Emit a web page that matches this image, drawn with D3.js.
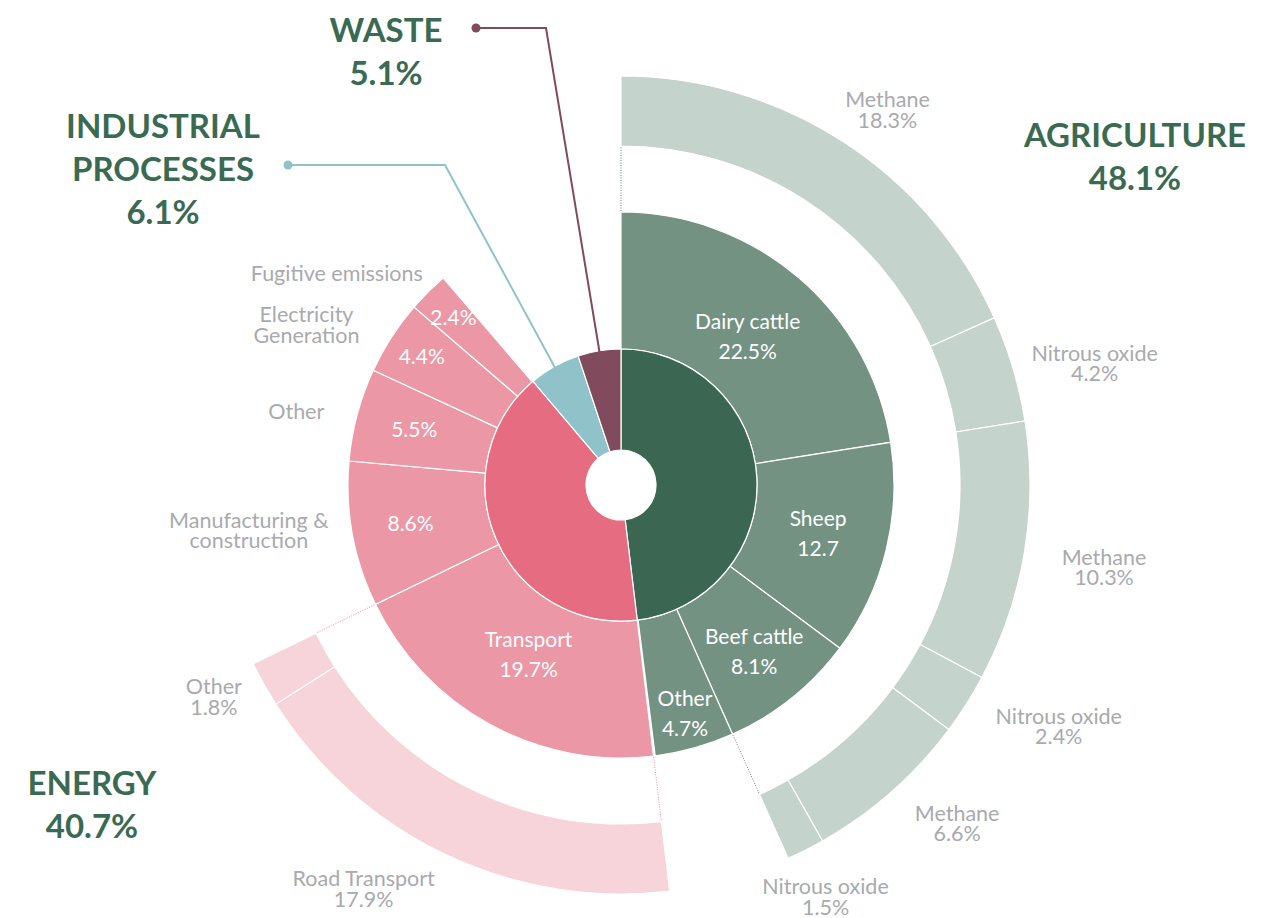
<!DOCTYPE html>
<html>
<head>
<meta charset="utf-8">
<script src="https://cdn.jsdelivr.net/npm/d3@7"></script>
<style>
  body { margin: 0; background: #fff; }
  svg { display: block; }
  text { font-family: Lato, "Open Sans", sans-serif; }
</style>
</head>
<body>
<svg id="chart" width="1272" height="918"></svg>
<script>
// --- data (share of total emissions, %) ---
const sectors = ["AGRICULTURE", "ENERGY", "INDUSTRIAL PROCESSES", "WASTE"];
const sectorShare = [48.1, 40.7, 6.1, 5.1];

const agriSources = ["Dairy cattle", "Sheep", "Beef cattle", "Other"];
const agriShare = [22.5, 12.7, 8.1, 4.7];
const agriTags = ["22.5%", "12.7", "8.1%", "4.7%"];

const energySources = ["Transport", "Manufacturing & construction", "Other", "Electricity Generation", "Fugitive emissions"];
const energyShare = [19.7, 8.6, 5.5, 4.4, 2.4];

const gases = ["Methane", "Nitrous oxide"];
const dairyGas = [18.3, 4.2];
const sheepGas = [10.3, 2.4];
const beefGas = [6.6, 1.5];

const transportModes = ["Road Transport", "Other"];
const transportShare = [17.9, 1.8];

// --- layout ---
const W = 1272, H = 918;
const cx = 621, cy = 485;
const R = { hole: 35, inner: 136, mid: 273, out0: 339, out1: 409 };

const green = { dark: "#3b6651", mid: "#739282", light: "#c4d3cc" };
const pink = { dark: "#e66c81", mid: "#ec97a5", light: "#f7d3da" };
const teal = "#8fc3c9", plum = "#814a5d";
const titleColor = "#3b6a53", grey = "#a8aaad";

// where the grey outside labels sit: [angle in degrees, radius]
const outsideSpot = {
  "Methane 18.3": [35.4, 460], "Nitrous oxide 4.2": [75.6, 489],
  "Methane 10.3": [99.7, 490], "Nitrous oxide 2.4": [118.9, 500],
  "Methane 6.6": [135.2, 477], "Nitrous oxide 1.5": [153.6, 460],
  "Road Transport 17.9": [212.5, 479], "Other 1.8": [242.5, 459],
  "Fugitive emissions": [306.6, 354], "Electricity Generation": [297, 353],
  "Other": [282.8, 333], "Manufacturing & construction": [263, 375]
};
// radius of the white labels inside the middle ring
const insideRadius = { "Dairy cattle": 195, "Sheep": 203, "Beef cattle": 213, "Transport": 193 };

const angle = d3.scaleLinear().domain([0, 100]).range([0, 2 * Math.PI]);
const polar = (a, r) => [r * Math.sin(a), -r * Math.cos(a)];

function stack(names, values, start, r0, r1, fill) {
  let acc = start;
  return names.map((name, i) => {
    const d = { name, value: values[i], a0: acc, a1: acc + values[i], r0, r1, fill };
    acc += values[i];
    return d;
  });
}

const svg = d3.select("#chart");
svg.append("rect").attr("width", W).attr("height", H).attr("fill", "#fff");
const g = svg.append("g").attr("transform", `translate(${cx},${cy})`);

// rings
const sectorFill = [green.dark, pink.dark, teal, plum];
const ring0 = stack(sectors, sectorShare, 0, R.hole, R.inner, null);
ring0.forEach((d, i) => d.fill = sectorFill[i]);
const agri = stack(agriSources, agriShare, ring0[0].a0, R.inner, R.mid, green.mid);
const energy = stack(energySources, energyShare, ring0[1].a0, R.inner, R.mid, pink.mid);
const agriGas = [dairyGas, sheepGas, beefGas].flatMap((vals, i) =>
  stack(gases, vals, agri[i].a0, R.out0, R.out1, green.light));
const transport = stack(transportModes, transportShare, energy[0].a0, R.out0, R.out1, pink.light);

const arc = d3.arc()
  .innerRadius(d => d.r0).outerRadius(d => d.r1)
  .startAngle(d => angle(d.a0)).endAngle(d => angle(d.a1));

g.selectAll("path.seg")
  .data([...agriGas, ...transport, ...agri, ...energy, ...ring0])
  .join("path")
  .attr("class", "seg")
  .attr("d", arc)
  .attr("fill", d => d.fill)
  .attr("stroke", "#fff")
  .attr("stroke-width", 1.2);

// dotted connectors between middle ring and outer ring
const links = [
  { a: agri[0].a0, c: "#6f8a7c" }, { a: agri[2].a1, c: "#6f8a7c" },
  { a: energy[0].a0, c: "#e98ea0" }, { a: energy[0].a1, c: "#e98ea0" }
];
g.selectAll("line.link").data(links).join("line")
  .attr("class", "link")
  .attr("x1", d => polar(angle(d.a), R.mid + 1)[0])
  .attr("y1", d => polar(angle(d.a), R.mid + 1)[1])
  .attr("x2", d => polar(angle(d.a), R.out0)[0])
  .attr("y2", d => polar(angle(d.a), R.out0)[1])
  .attr("stroke", d => d.c)
  .attr("stroke-width", 1)
  .attr("stroke-dasharray", "1,1.5");

// multi-line text helper (lines centred on y)
function lines(sel, arr, lh) {
  const n = arr.length;
  arr.forEach((t, i) => {
    sel.append("tspan")
      .attr("x", sel.attr("x"))
      .attr("y", +sel.attr("y") + (i - (n - 1) / 2) * lh)
      .attr("dy", "0.35em")
      .text(t);
  });
}

// white labels inside the middle ring
const insideLabels = [
  ...agri.map((d, i) => ({ d, txt: [d.name, agriTags[i]] })),
  { d: energy[0], txt: [energy[0].name, energy[0].value + "%"] },
  ...energy.slice(1).map(d => ({ d, txt: [d.value + "%"] }))
];
insideLabels.forEach(({ d, txt }) => {
  const r = d.value < 5 ? 237 : (insideRadius[d.name] || 214);
  const [x, y] = polar(angle((d.a0 + d.a1) / 2), r);
  const t = g.append("text").attr("x", x).attr("y", y)
    .attr("text-anchor", "middle").attr("fill", "#fff")
    .attr("font-size", 21);
  lines(t, txt, 30);
});

// grey labels outside
const outsideLabels = [
  ...agriGas.map(d => ({ key: `${d.name} ${d.value}`, txt: [d.name, d.value + "%"] })),
  ...transport.map(d => ({ key: `${d.name} ${d.value}`, txt: [d.name, d.value + "%"] })),
  { key: "Fugitive emissions", txt: ["Fugitive emissions"] },
  { key: "Electricity Generation", txt: ["Electricity", "Generation"] },
  { key: "Other", txt: ["Other"] },
  { key: "Manufacturing & construction", txt: ["Manufacturing &", "construction"] }
];
outsideLabels.forEach(({ key, txt }) => {
  const [deg, r] = outsideSpot[key];
  const [x, y] = polar(deg * Math.PI / 180, r);
  const t = g.append("text").attr("x", x).attr("y", y)
    .attr("text-anchor", "middle").attr("fill", grey)
    .attr("font-size", 21.5);
  lines(t, txt, 20.5);
});

// leader lines for the two small sectors
const leaders = [
  { d: ring0[2], dot: [288, 165], elbow: [445, 165], c: teal },
  { d: ring0[3], dot: [476, 28], elbow: [546, 28], c: plum }
];
leaders.forEach(({ d, dot, elbow, c }) => {
  const [ex, ey] = polar(angle((d.a0 + d.a1) / 2), R.inner - 2);
  svg.append("path")
    .attr("d", d3.line()([dot, elbow, [cx + ex, cy + ey]]))
    .attr("fill", "none").attr("stroke", c).attr("stroke-width", 2);
  svg.append("circle").attr("cx", dot[0]).attr("cy", dot[1]).attr("r", 4.5).attr("fill", c);
});

// sector titles
const titles = [
  { txt: ["AGRICULTURE", sectorShare[0] + "%"], x: 1135, y: 157 },
  { txt: ["ENERGY", sectorShare[1] + "%"], x: 92, y: 805 },
  { txt: ["INDUSTRIAL", "PROCESSES", sectorShare[2] + "%"], x: 163, y: 169 },
  { txt: ["WASTE", sectorShare[3] + "%"], x: 386, y: 52 }
];
titles.forEach(({ txt, x, y }) => {
  const t = svg.append("text").attr("x", x).attr("y", y)
    .attr("text-anchor", "middle").attr("fill", titleColor)
    .attr("font-size", 33).attr("font-weight", 700);
  lines(t, txt, 43);
});
</script>
</body>
</html>
